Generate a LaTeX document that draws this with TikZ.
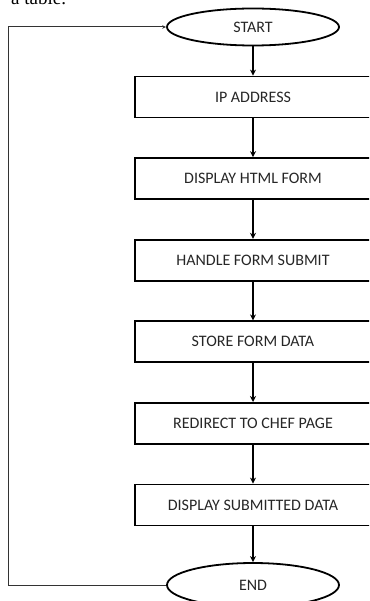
\documentclass[tikz,border=0pt]{standalone}
\usepackage{fontspec}
\setmainfont{Carlito}
\newfontfamily\pageserif{Liberation Serif}
\usetikzlibrary{shapes.geometric,arrows.meta}
\begin{document}
\begin{tikzpicture}[x=1pt,y=-1pt,
  stepbox/.style={draw,line width=1.8pt,minimum width=236pt,minimum height=41pt,inner sep=0pt,
    text=black!85,font=\fontsize{16}{18}\selectfont},
  term/.style={draw,ellipse,line width=1.8pt,minimum width=172pt,inner sep=0pt,
    text=black!85,font=\fontsize{16}{18}\selectfont},
  flow/.style={line width=1.8pt,-{Stealth[length=6pt,width=6pt]}},
  back/.style={line width=1pt,black!80,-{Stealth[length=4pt,width=3.5pt]}}]
\useasboundingbox (0,0) rectangle (369,601);
\clip (0,0) rectangle (369,601);
% text line of the page, cut at the top
\node[anchor=base west,inner sep=0pt,font=\pageserif\fontsize{19}{21}\selectfont] (pageline) at (11,5) {a table.};
% terminals
\node[term,minimum height=37pt] (start) at (253,27) {START};
\node[term,minimum height=44pt] (end) at (253,585) {END};
% steps
\node[stepbox] (ip) at (253,97) {IP ADDRESS};
\node[stepbox] (form) at (253,178.6) {DISPLAY HTML FORM};
\node[stepbox] (submit) at (253,260.2) {HANDLE FORM SUBMIT};
\node[stepbox] (store) at (253,341.8) {STORE FORM DATA};
\node[stepbox] (chef) at (253,423.4) {REDIRECT TO CHEF PAGE};
\node[stepbox] (shown) at (253,505) {DISPLAY SUBMITTED DATA};
% arrows
\draw[flow] (start) -- (ip);
\draw[flow] (ip) -- (form);
\draw[flow] (form) -- (submit);
\draw[flow] (submit) -- (store);
\draw[flow] (store) -- (chef);
\draw[flow] (chef) -- (shown);
\draw[flow] (shown) -- (end);
% loop back
\coordinate (corner) at (8,585);
\draw[back] (end.west) -- (corner) |- (start.west);
\end{tikzpicture}
\end{document}
